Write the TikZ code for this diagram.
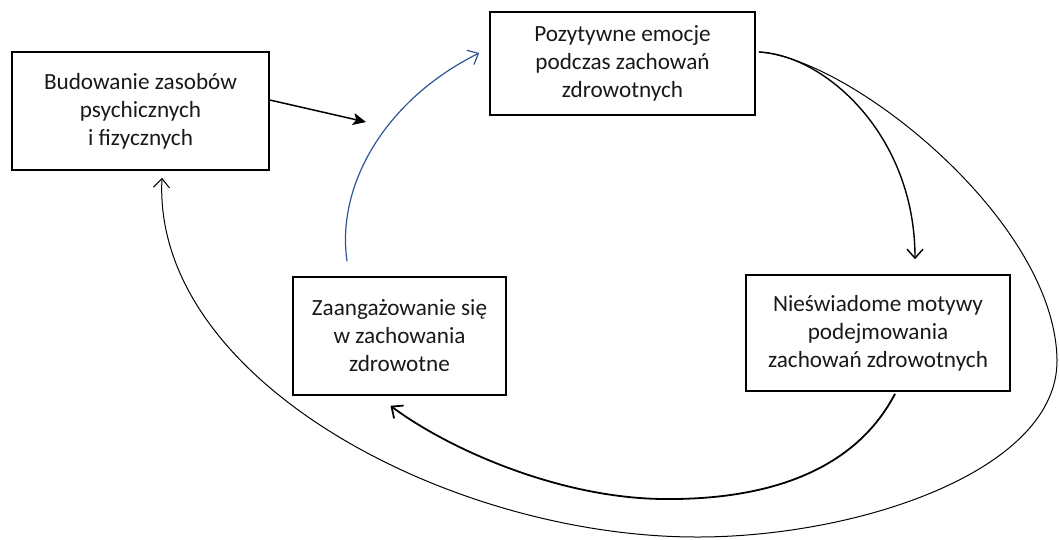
\documentclass[tikz,border=0pt]{standalone}
\usepackage{fontspec}
\setmainfont{Carlito}
\usetikzlibrary{arrows.meta}
\definecolor{arcblue}{RGB}{47,85,151}
\tikzset{
  box/.style={draw=black, line width=1.6pt, align=center, inner sep=0pt,
    font=\fontsize{23.2}{28}\selectfont, text=black!90},
  barb/.style={-{Straight Barb[length=9pt,width=16pt]}},
}
\begin{document}
\begin{tikzpicture}[x=1pt,y=-1pt]
\useasboundingbox (0,0) rectangle (1059,539);
\node[box, minimum width=257pt, minimum height=118pt] (A) at (140.5,111) {Budowanie zasobów\\psychicznych\\i fizycznych};
\node[box, minimum width=265pt, minimum height=103pt] (B) at (622.5,63.5) {Pozytywne emocje\\podczas zachowań\\zdrowotnych};
\node[box, minimum width=264pt, minimum height=116pt] (C) at (878,333) {Nieświadome motywy\\podejmowania\\zachowań zdrowotnych};
\node[box, minimum width=213pt, minimum height=118pt] (D) at (399.5,336) {Zaangażowanie się\\w zachowania\\zdrowotne};
\coordinate (Atip) at (366,122);
% A -> free end
\draw[line width=1.5pt, -{Stealth[length=13pt,width=12pt,inset=3pt]}] ([yshift=11pt]A.east) -- (Atip);
% D -> B (blue)
\draw[arcblue, line width=1.2pt, barb] ([xshift=-52.5pt,yshift=15pt]D.north) .. controls (336,185) and (385,100) .. ([xshift=-10pt,yshift=10.5pt]B.west);
% B -> C
\draw[line width=1.4pt, barb] ([xshift=3pt,yshift=11.5pt]B.east) .. controls (825,55) and (915,135) .. ([xshift=37pt,yshift=15pt]C.north);
% B -> A outer loop
\draw[line width=1pt, barb] ([xshift=3pt,yshift=11.5pt]B.east) .. controls (850,58) and (1055,220) .. (1057,360) .. controls (1058,470) and (860,537) .. (697,537) .. controls (450,537) and (152,380) .. ([xshift=21.5pt,yshift=-7pt]A.south);
% C -> D
\draw[line width=1.8pt, barb] ([xshift=17pt,yshift=-2pt]C.south) .. controls (850,480) and (750,500) .. (663,499) .. controls (560,498) and (450,450) .. ([xshift=-9pt,yshift=-10pt]D.south);
\end{tikzpicture}
\end{document}
